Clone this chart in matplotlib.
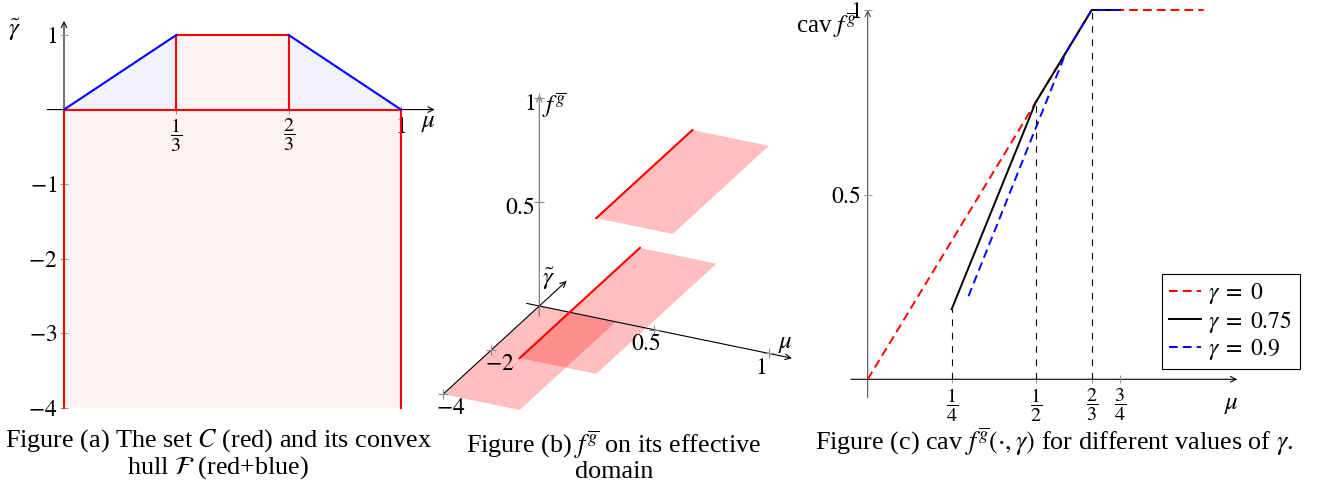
import numpy as np
import matplotlib
matplotlib.use('Agg')
import matplotlib.pyplot as plt
from mpl_toolkits.mplot3d import proj3d
from mpl_toolkits.mplot3d.art3d import Poly3DCollection

plt.rcParams['font.family'] = 'Liberation Serif'
plt.rcParams['mathtext.fontset'] = 'stix'
plt.rcParams['font.size'] = 17

W, H = 1331, 486

# (a) the set C (red) and its convex hull (red+blue)
C_lo_mu = [0, 1]
C_lo_gamma = [-4, 0]
C_up_mu = [1/3, 2/3]
C_up_gamma = [0, 1]
hull_mu = [0, 1/3, 2/3, 1]
hull_gamma = [0, 1, 1, 0]
a_xticks = [1/3, 2/3, 1]
a_xticklabels = [r'$\dfrac{1}{3}$', r'$\dfrac{2}{3}$', '$1$']
a_yticks = [1, -1, -2, -3, -4]

# (b) f^g on its effective domain, one flat piece per entry
b_mu = [(0, 1/3), (1/3, 2/3), (2/3, 1)]
b_gamma = [(-4, 0), (-4, 1), (-4, 0)]
b_f = [0, 0.25, 1]
b_mu_ticks = [0.5, 1]
b_gamma_ticks = [-2, -4]
b_f_ticks = [0.5, 1]

# (c) cav f^g(., gamma) for a few gammas
c_gammas = ['0', '0.75', '0.9']
c_mu = [[0, 2/3, 1], [1/4, 1/2, 2/3, 3/4], [0.30, 0.59, 2/3, 3/4]]
c_val = [[0, 1, 1], [0.19, 0.75, 1, 1], [0.225, 0.885, 1, 1]]
guide_mu = [1/4, 1/2, 2/3]
guide_val = [0.19, 0.75, 1]
c_xticks = [1/4, 1/2, 2/3, 3/4]
c_xticklabels = [r'$\dfrac{1}{4}$', r'$\dfrac{1}{2}$', r'$\dfrac{2}{3}$', r'$\dfrac{3}{4}$']
c_yticks = [0.5, 1]

RED_FILL = (1, 0.95, 0.95)
BLUE_FILL = (0.95, 0.95, 1)
CAP = 18.8
FRAC = 14.5


def put(px, py, s, **kw):
    kw.setdefault('ha', 'center')
    kw.setdefault('va', 'center')
    return fig.text(px / W, 1 - py / H, s, **kw)


def axes_at(xlim, ylim, x0, px0, x1, px1, y0, py0, y1, py1):
    # place an axes so that two known data values land on given pixels
    kx = (px1 - px0) / (x1 - x0)
    ky = (py1 - py0) / (y1 - y0)
    left = px0 + (xlim[0] - x0) * kx
    right = px0 + (xlim[1] - x0) * kx
    top = py0 + (ylim[1] - y0) * ky
    bottom = py0 + (ylim[0] - y0) * ky
    ax = fig.add_axes([left / W, 1 - bottom / H, (right - left) / W, (bottom - top) / H])
    ax.set_xlim(xlim)
    ax.set_ylim(ylim)
    return ax


def center_axes(ax, xr, yr, ycolor='k'):
    for s in ax.spines.values():
        s.set_visible(False)
    ax.spines['bottom'].set_position(('data', 0))
    ax.spines['left'].set_position(('data', 0))
    ax.patch.set_visible(False)
    ax.tick_params(direction='inout', length=6, width=0.8, color='0.6', pad=2)
    ap = dict(arrowstyle='->', lw=0.8, shrinkA=0, shrinkB=0, mutation_scale=10)
    ax.annotate('', xy=(xr[1], 0), xytext=(xr[0], 0), zorder=1.5,
                arrowprops=dict(ap, color='k'))
    ax.annotate('', xy=(0, yr[1]), xytext=(0, yr[0]), zorder=1.5,
                arrowprops=dict(ap, color=ycolor))


fig = plt.figure(figsize=(W / 100, H / 100), dpi=100)

# ---------------- (a)
axa = axes_at((-0.06, 1.12), (-4.05, 1.25), 0, 64, 1, 401, 1, 35, -4, 408)
center_axes(axa, (-0.05, 1.10), (-4, 1.19))
axa.fill_between(hull_mu, 0, hull_gamma, color=BLUE_FILL, lw=0, zorder=1)
axa.fill_between(C_lo_mu, C_lo_gamma[0], C_lo_gamma[1], color=RED_FILL, lw=0, zorder=1)
axa.fill_between(C_up_mu, C_up_gamma[0], C_up_gamma[1], color=RED_FILL, lw=0, zorder=1)
axa.plot([C_lo_mu[0], C_lo_mu[0], C_lo_mu[1], C_lo_mu[1]],
         [C_lo_gamma[0], C_lo_gamma[1], C_lo_gamma[1], C_lo_gamma[0]], color='red', lw=1.5)
axa.plot([C_up_mu[0], C_up_mu[0], C_up_mu[1], C_up_mu[1]],
         [C_up_gamma[0], C_up_gamma[1], C_up_gamma[1], C_up_gamma[0]], color='red', lw=1.5)
axa.plot(hull_mu[:2], hull_gamma[:2], color='blue', lw=1.5)
axa.plot(hull_mu[2:], hull_gamma[2:], color='blue', lw=1.5)
axa.set_xticks(a_xticks)
axa.set_xticklabels(a_xticklabels)
for t in axa.get_xticklabels()[:2]:
    t.set_fontsize(FRAC)
axa.set_yticks(a_yticks)
axa.set_yticklabels(['$%d$' % v if v > 0 else r'$-%d$' % -v for v in a_yticks])
put(14, 30, r'$\tilde{\gamma}$', fontsize=18)
put(428, 123, r'$\mu$', fontsize=18)
put(218, 454, 'Figure (a) The set $C$ (red) and its convex\nhull $\\mathcal{F}$ (red+blue)',
    fontsize=CAP, linespacing=1.0)

# ---------------- (b)
ax3 = fig.add_axes([0.3, 0.2, 300 / W, 300 / H], projection='3d', proj_type='ortho',
                   computed_zorder=False)
ax3.view_init(elev=25.8, azim=-64.6)
lims = [(-0.1, 1.15), (-4.2, 1.3), (0, 1.05)]
ax3.set_xlim(*lims[0])
ax3.set_ylim(*lims[1])
ax3.set_zlim(*lims[2])
unit_px = [254.2, 56.05, 230.6]
ax3.set_box_aspect([u * (hi - lo) for u, (lo, hi) in zip(unit_px, lims)])
ax3.set_axis_off()
ax3.patch.set_visible(False)


def to_px(x, y, z):
    xs, ys, _ = proj3d.proj_transform(np.asarray(x, float), np.asarray(y, float),
                                      np.asarray(z, float), ax3.get_proj())
    return ax3.transData.transform(np.column_stack([xs, ys]))


# scale and shift the 3d box so the origin and mu=1 land where they should
target_o = np.array([539.3, H - 306.0])
target_a = np.array([769.0, H - 353.3])
side = 300.0
p = to_px([0, 1], [0, 0], [0, 0])
side *= np.linalg.norm(target_a - target_o) / np.linalg.norm(p[1] - p[0])
ax3.set_position([0.3, 0.2, side / W, side / H])
p = to_px([0], [0], [0])[0]
ax3.set_position([0.3 + (target_o[0] - p[0]) / W, 0.2 + (target_o[1] - p[1]) / H,
                  side / W, side / H])

polys = []
for (m0, m1), (g0, g1), f in zip(b_mu, b_gamma, b_f):
    polys.append([(m0, g0, f), (m1, g0, f), (m1, g1, f), (m0, g1, f)])
ax3.add_collection3d(Poly3DCollection(polys, facecolors=(1, 0, 0, 0.25),
                                      edgecolors='none', zorder=1))
for (m0, m1), (g0, g1), f in zip(b_mu, b_gamma, b_f):
    if f > 0:
        ax3.plot([m0, m0], [g0, g1], [f, f], color='red', lw=1.5, zorder=3)

ap = dict(arrowstyle='->', lw=0.8, shrinkA=0, shrinkB=0, mutation_scale=10)
for p0, p1, col in [((-0.055, 0, 0), (1.10, 0, 0), 'k'),
                    ((0, -4, 0), (0, 1.14, 0), 'k'),
                    ((0, 0, -0.05), (0, 0, 1.015), '0.45')]:
    q = to_px([p0[0], p1[0]], [p0[1], p1[1]], [p0[2], p1[2]])
    ax3.annotate('', xy=q[1], xytext=q[0], xycoords='figure pixels',
                 textcoords='figure pixels', zorder=2, arrowprops=dict(ap, color=col))

ax3.plot(b_mu_ticks, [0] * len(b_mu_ticks), [0] * len(b_mu_ticks), ls='none',
         marker='+', ms=7, mew=0.8, color='0.55', zorder=2.5)
ax3.plot([0] * len(b_gamma_ticks), b_gamma_ticks, [0] * len(b_gamma_ticks), ls='none',
         marker='+', ms=7, mew=0.8, color='0.55', zorder=2.5)
ax3.plot([0] * len(b_f_ticks), [0] * len(b_f_ticks), b_f_ticks, ls='none',
         marker='+', ms=7, mew=0.8, color='0.55', zorder=2.5)

for v in b_mu_ticks:
    q = to_px([v], [0], [0])[0]
    put(q[0] - 8, H - q[1] + 15, '$%g$' % v)
for v in b_gamma_ticks:
    q = to_px([0], [v], [0])[0]
    put(q[0] + 8, H - q[1] + 14, r'$-%g$' % -v)
for v in b_f_ticks:
    q = to_px([0], [0], [v])[0]
    put(q[0] - 4, H - q[1] + 6, '$%g$' % v, ha='right')
q = to_px([0], [0], [1.0])[0]
put(q[0] + 15, H - q[1] + 7, r'$f^{\overline{g}}$', fontsize=18)
q = to_px([0], [1.14], [0])[0]
put(q[0] - 18, H - q[1] - 2, r'$\tilde{\gamma}$', fontsize=18)
put(785, 344, r'$\mu$', fontsize=18)
put(614, 456, 'Figure (b) $f^{\\overline{g}}$ on its effective\ndomain',
    fontsize=CAP, linespacing=1.0)

# ---------------- (c)
axc = axes_at((-0.06, 1.12), (-0.06, 1.03), 0, 867.7, 1, 1203.7, 0, 379.3, 1, 10)
center_axes(axc, (-0.05, 1.10), (-0.05, 1.0), ycolor='0.3')
axc.vlines(guide_mu, 0, guide_val, colors='k', lw=0.8, linestyles=(0, (6, 6)), zorder=1.8)
c_colors = ['red', 'black', 'blue']
c_ls = [(0, (4.5, 2.6)), '-', (0, (4.5, 2.6))]
for mu, val, g, col, ls in zip(c_mu, c_val, c_gammas, c_colors, c_ls):
    axc.plot(mu, val, color=col, ls=ls, lw=1.4, label=r'$\gamma\;=\;%s$' % g)
axc.set_xticks(c_xticks)
axc.set_xticklabels(c_xticklabels, fontsize=FRAC)
axc.set_yticks(c_yticks)
axc.set_yticklabels(['$%g$' % v for v in c_yticks])
leg = axc.legend(loc='upper left', bbox_to_anchor=(1161.7 / W, 1 - 274.3 / H),
                 bbox_transform=fig.transFigure, borderaxespad=0, fancybox=False,
                 framealpha=1, edgecolor='k', handlelength=1.35, handletextpad=0.33,
                 borderpad=0.3, labelspacing=0.1, fontsize=17)
leg.get_frame().set_linewidth(0.8)
put(857, 25, r'cav $f^{\overline{g}}$', ha='right', fontsize=18)
put(1231, 405, r'$\mu$', fontsize=18)
put(1054, 442, 'Figure (c) cav $f^{\\overline{g}}(\\cdot,\\gamma)$ for different values of $\\gamma$.',
    fontsize=CAP)

fig.savefig('out.png', dpi=100)
